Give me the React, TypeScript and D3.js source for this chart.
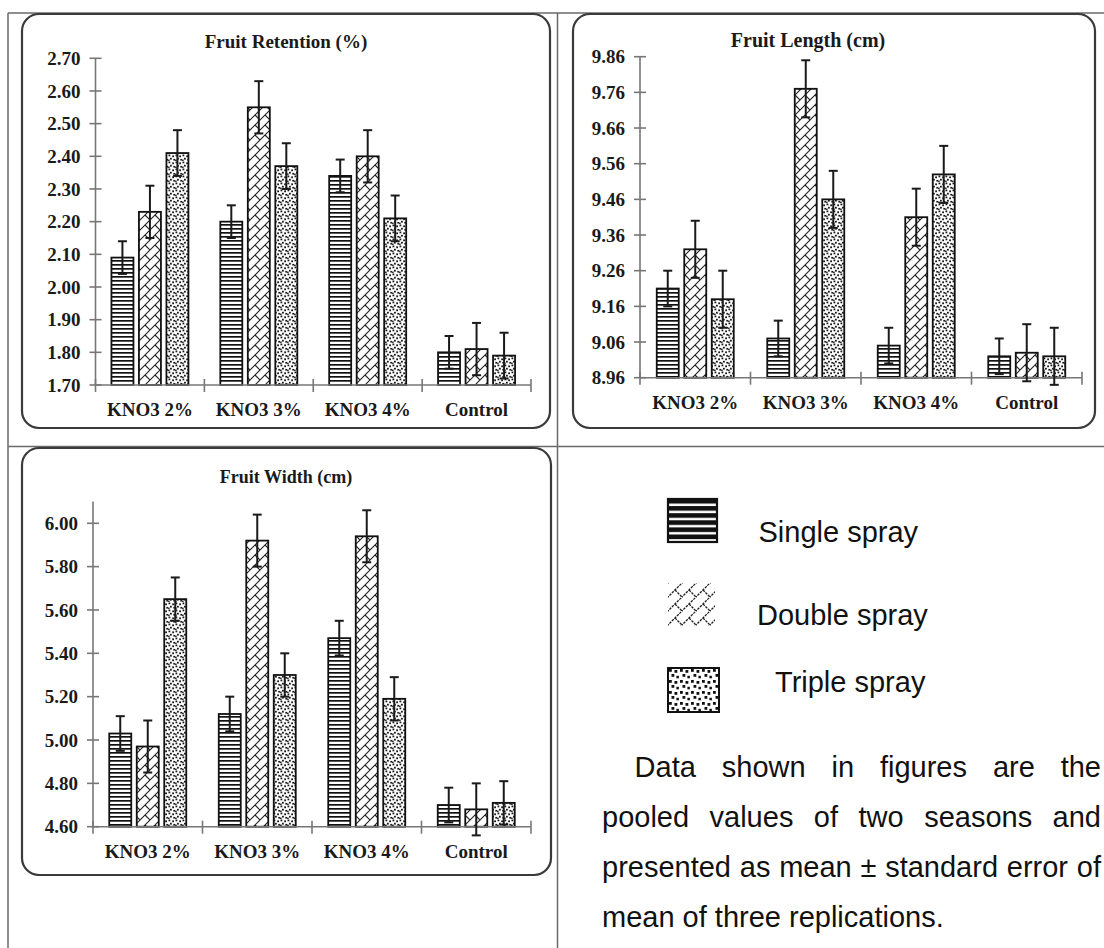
import React from "react";
import * as d3 from "d3";

// ---------- data ----------
const categories = ["KNO3 2%", "KNO3 3%", "KNO3 4%", "Control"];
const seriesNames = ["Single spray", "Double spray", "Triple spray"];

const retentionSingle = [2.09, 2.2, 2.34, 1.8];
const retentionDouble = [2.23, 2.55, 2.4, 1.81];
const retentionTriple = [2.41, 2.37, 2.21, 1.79];
const retentionErrSingle = [0.05, 0.05, 0.05, 0.05];
const retentionErrDouble = [0.08, 0.08, 0.08, 0.08];
const retentionErrTriple = [0.07, 0.07, 0.07, 0.07];
const retentionTicks = [1.7, 1.8, 1.9, 2.0, 2.1, 2.2, 2.3, 2.4, 2.5, 2.6, 2.7];

const lengthSingle = [9.21, 9.07, 9.05, 9.02];
const lengthDouble = [9.32, 9.77, 9.41, 9.03];
const lengthTriple = [9.18, 9.46, 9.53, 9.02];
const lengthErrSingle = [0.05, 0.05, 0.05, 0.05];
const lengthErrDouble = [0.08, 0.08, 0.08, 0.08];
const lengthErrTriple = [0.08, 0.08, 0.08, 0.08];
const lengthTicks = [8.96, 9.06, 9.16, 9.26, 9.36, 9.46, 9.56, 9.66, 9.76, 9.86];

const widthSingle = [5.03, 5.12, 5.47, 4.7];
const widthDouble = [4.97, 5.92, 5.94, 4.68];
const widthTriple = [5.65, 5.3, 5.19, 4.71];
const widthErrSingle = [0.08, 0.08, 0.08, 0.08];
const widthErrDouble = [0.12, 0.12, 0.12, 0.12];
const widthErrTriple = [0.1, 0.1, 0.1, 0.1];
const widthTicks = [4.6, 4.8, 5.0, 5.2, 5.4, 5.6, 5.8, 6.0];

const noteLines = [
  "Data shown in figures are the",
  "pooled values of two seasons and",
  "presented as mean \u00b1 standard error of",
  "mean of three replications.",
];

// ---------- layout ----------
const W = 1104;
const H = 948;
const SERIF = "'Liberation Serif', 'Times New Roman', serif";
const SANS = "'Liberation Sans', Arial, sans-serif";
const patternIds = ["pSingle", "pDouble", "pTriple"];

const panels = [
  {
    title: "Fruit Retention (%)",
    titleX: 286,
    titleY: 48,
    titleSize: 19,
    box: { x: 22, y: 14, w: 528, h: 414 },
    x0: 95.5,
    x1: 531,
    yBottom: 385,
    yTop: 58.3,
    domain: [1.7, 2.7],
    ticks: retentionTicks,
    values: [retentionSingle, retentionDouble, retentionTriple],
    errors: [retentionErrSingle, retentionErrDouble, retentionErrTriple],
  },
  {
    title: "Fruit Length (cm)",
    titleX: 808,
    titleY: 47,
    titleSize: 20,
    box: { x: 573, y: 14, w: 522, h: 414 },
    x0: 640,
    x1: 1082,
    yBottom: 377.7,
    yTop: 56.7,
    domain: [8.96, 9.86],
    ticks: lengthTicks,
    values: [lengthSingle, lengthDouble, lengthTriple],
    errors: [lengthErrSingle, lengthErrDouble, lengthErrTriple],
  },
  {
    title: "Fruit Width (cm)",
    titleX: 286,
    titleY: 483,
    titleSize: 18,
    box: { x: 22, y: 448, w: 529, h: 427 },
    x0: 93,
    x1: 531,
    yBottom: 826.7,
    yTop: 501.6,
    domain: [4.6, 6.1],
    ticks: widthTicks,
    values: [widthSingle, widthDouble, widthTriple],
    errors: [widthErrSingle, widthErrDouble, widthErrTriple],
  },
];

let measureCtx: CanvasRenderingContext2D | null = null;
function measure(text: string, font: string): number {
  if (!measureCtx) {
    const c = document.createElement("canvas");
    measureCtx = c.getContext("2d");
  }
  if (!measureCtx) return text.length * 14;
  measureCtx.font = font;
  return measureCtx.measureText(text).width;
}

function Panel({ p }: { p: (typeof panels)[number] }) {
  const x = d3.scaleBand<string>().domain(categories).range([p.x0, p.x1]).padding(0);
  const groupW = 77;
  const xi = d3.scaleBand<string>().domain(seriesNames).range([0, groupW]).paddingInner(0.2);
  const y = d3
    .scaleLinear()
    .domain(p.domain as [number, number])
    .range([p.yBottom, p.yTop]);
  const off = (x.bandwidth() - groupW) / 2;
  const axisColor = "#777";
  const bounds = categories.map((c) => x(c) as number).concat([p.x1]);
  const cap = 4.5;
  return (
    <g>
      <rect
        x={p.box.x}
        y={p.box.y}
        width={p.box.w}
        height={p.box.h}
        rx={17}
        ry={17}
        fill="#fff"
        stroke="#3a3a3a"
        strokeWidth={2.2}
      />
      <text
        x={p.titleX}
        y={p.titleY}
        textAnchor="middle"
        fontFamily={SERIF}
        fontWeight="bold"
        fontSize={p.titleSize}
        fill="#1a1a1a"
      >
        {p.title}
      </text>
      {/* y axis */}
      <line x1={p.x0} x2={p.x0} y1={p.yBottom} y2={y(p.domain[1])} stroke={axisColor} strokeWidth={1.6} />
      {p.ticks.map((t) => (
        <g key={"t" + t}>
          <line x1={p.x0 - 6} x2={p.x0 + 6} y1={y(t)} y2={y(t)} stroke={axisColor} strokeWidth={1.6} />
          <text
            x={p.x0 - 15}
            y={y(t)}
            dy="0.35em"
            textAnchor="end"
            fontFamily={SERIF}
            fontWeight="bold"
            fontSize={19}
            fill="#1a1a1a"
          >
            {t.toFixed(2)}
          </text>
        </g>
      ))}
      {/* bars */}
      {p.values.map((vals, si) =>
        vals.map((v, ci) => {
          const bx = (x(categories[ci]) as number) + off + (xi(seriesNames[si]) as number);
          return (
            <rect
              key={`b${si}-${ci}`}
              x={bx}
              y={y(v)}
              width={xi.bandwidth()}
              height={p.yBottom - y(v)}
              fill={`url(#${patternIds[si]})`}
              stroke="#111"
              strokeWidth={1.8}
            />
          );
        })
      )}
      {/* x axis */}
      <line x1={p.x0} x2={p.x1} y1={p.yBottom} y2={p.yBottom} stroke={axisColor} strokeWidth={1.6} />
      {bounds.map((bx, i) => (
        <line key={"xt" + i} x1={bx} x2={bx} y1={p.yBottom - 6} y2={p.yBottom + 7} stroke={axisColor} strokeWidth={1.6} />
      ))}
      {/* error bars */}
      {p.values.map((vals, si) =>
        vals.map((v, ci) => {
          const cx =
            (x(categories[ci]) as number) + off + (xi(seriesNames[si]) as number) + xi.bandwidth() / 2;
          const e = p.errors[si][ci];
          const yh = y(v + e);
          const yl = y(v - e);
          return (
            <g key={`e${si}-${ci}`} stroke="#1a1a1a" strokeWidth={2}>
              <line x1={cx} x2={cx} y1={yh} y2={yl} />
              <line x1={cx - cap} x2={cx + cap} y1={yh} y2={yh} />
              <line x1={cx - cap} x2={cx + cap} y1={yl} y2={yl} />
            </g>
          );
        })
      )}
      {categories.map((c) => (
        <text
          key={"c" + c}
          x={(x(c) as number) + x.bandwidth() / 2}
          y={p.yBottom + 31}
          textAnchor="middle"
          fontFamily={SERIF}
          fontWeight="bold"
          fontSize={19}
          fill="#1a1a1a"
        >
          {c}
        </text>
      ))}
    </g>
  );
}

function Note() {
  const fs = 29;
  const font = `${fs}px 'Liberation Sans', Arial, sans-serif`;
  const lines = [
    { text: noteLines[0], x0: 634.6, x1: 1101, y: 776.7, justify: true },
    { text: noteLines[1], x0: 602, x1: 1101, y: 826.7, justify: true },
    { text: noteLines[2], x0: 602, x1: 1101, y: 876.7, justify: true },
    { text: noteLines[3], x0: 602, x1: 1101, y: 926.7, justify: false },
  ];
  return (
    <g>
      {lines.map((ln, li) => {
        const words = ln.text.split(" ");
        const widths = words.map((w) => measure(w, font));
        const total = widths.reduce((a, b) => a + b, 0);
        const space = measure(" ", font);
        const gap = ln.justify ? (ln.x1 - ln.x0 - total) / (words.length - 1) : space;
        let cx = ln.x0;
        const xs = widths.map((w) => {
          const xx = cx;
          cx += w + gap;
          return xx;
        });
        return (
          <text key={"n" + li} y={ln.y} fontFamily={SANS} fontSize={fs} fill="#111">
            {words.map((w, i) => (
              <tspan key={i} x={xs[i]}>
                {w + (i < words.length - 1 ? " " : "")}
              </tspan>
            ))}
          </text>
        );
      })}
    </g>
  );
}

export default function App() {
  return (
    <svg
      width={W}
      height={H}
      viewBox={`0 0 ${W} ${H}`}
      style={{ position: "absolute", left: 0, top: 0, display: "block", background: "#fff" }}
    >
      <defs>
        <pattern id="pSingle" width={4} height={4} patternUnits="userSpaceOnUse">
          <rect width={4} height={4} fill="#fff" />
          <rect y={0} width={4} height={1.7} fill="#111" />
        </pattern>
        <pattern id="pDouble" width={10} height={10} patternUnits="userSpaceOnUse">
          <rect width={10} height={10} fill="#fff" />
          <path d="M-1,11 L11,-1 M-1,1 L1,-1 M9,11 L11,9" stroke="#222" strokeWidth={1.1} />
          <path d="M5,5 L10,10" stroke="#222" strokeWidth={1.1} />
        </pattern>
        <pattern id="pTriple" width={7} height={7} patternUnits="userSpaceOnUse">
          <rect width={7} height={7} fill="#fff" />
          <rect x={0.5} y={0.5} width={1.8} height={1.8} fill="#1a1a1a" />
          <rect x={4.2} y={1.4} width={1.8} height={1.8} fill="#1a1a1a" />
          <rect x={2.0} y={3.8} width={1.8} height={1.8} fill="#1a1a1a" />
          <rect x={5.3} y={4.9} width={1.7} height={1.7} fill="#1a1a1a" />
          <rect x={0.1} y={5.5} width={1.5} height={1.5} fill="#1a1a1a" />
        </pattern>
        <pattern id="lgSingle" x={668} y={499} width={10} height={7.1} patternUnits="userSpaceOnUse">
          <rect width={10} height={7.1} fill="#111" />
          <rect y={4.6} width={10} height={2.5} fill="#fff" />
        </pattern>
        <pattern id="lgDouble" x={668} y={583} width={14} height={14} patternUnits="userSpaceOnUse">
          <rect width={14} height={14} fill="#fff" />
          <path d="M-1,15 L15,-1 M-1,1 L1,-1 M13,15 L15,13" stroke="#222" strokeWidth={1.3} strokeDasharray="2.5 1" />
          <path d="M7,7 L14,14" stroke="#222" strokeWidth={1.3} strokeDasharray="2.5 1" />
        </pattern>
        <pattern id="lgTriple" x={668} y={668} width={11} height={11} patternUnits="userSpaceOnUse">
          <rect width={11} height={11} fill="#fff" />
          <rect x={1} y={1} width={2.8} height={2.8} fill="#111" />
          <rect x={6.5} y={2} width={2.8} height={2.8} fill="#111" />
          <rect x={3.5} y={6} width={2.8} height={2.8} fill="#111" />
          <rect x={8.4} y={7.8} width={2.5} height={2.5} fill="#111" />
        </pattern>
      </defs>

      {/* table grid */}
      <g stroke="#6a6a6a" strokeWidth={1.5}>
        <line x1={8} x2={W} y1={13} y2={13} />
        <line x1={8} x2={8} y1={13} y2={H} />
        <line x1={557.5} x2={557.5} y1={13} y2={H} />
        <line x1={8} x2={W} y1={446.5} y2={446.5} />
      </g>

      {panels.map((p, i) => (
        <Panel key={i} p={p} />
      ))}

      {/* legend */}
      <rect x={668} y={499} width={49} height={43} fill="url(#lgSingle)" stroke="#111" strokeWidth={2.2} />
      <rect x={668} y={583} width={47} height={43} fill="url(#lgDouble)" />
      <rect x={668} y={668} width={51} height={44} fill="url(#lgTriple)" stroke="#111" strokeWidth={2} />
      <text x={758.5} y={541.7} fontFamily={SANS} fontSize={29} fill="#111">
        {seriesNames[0]}
      </text>
      <text x={757} y={625} fontFamily={SANS} fontSize={29} fill="#111">
        {seriesNames[1]}
      </text>
      <text x={775} y={692.3} fontFamily={SANS} fontSize={29} fill="#111">
        {seriesNames[2]}
      </text>

      <Note />
    </svg>
  );
}
